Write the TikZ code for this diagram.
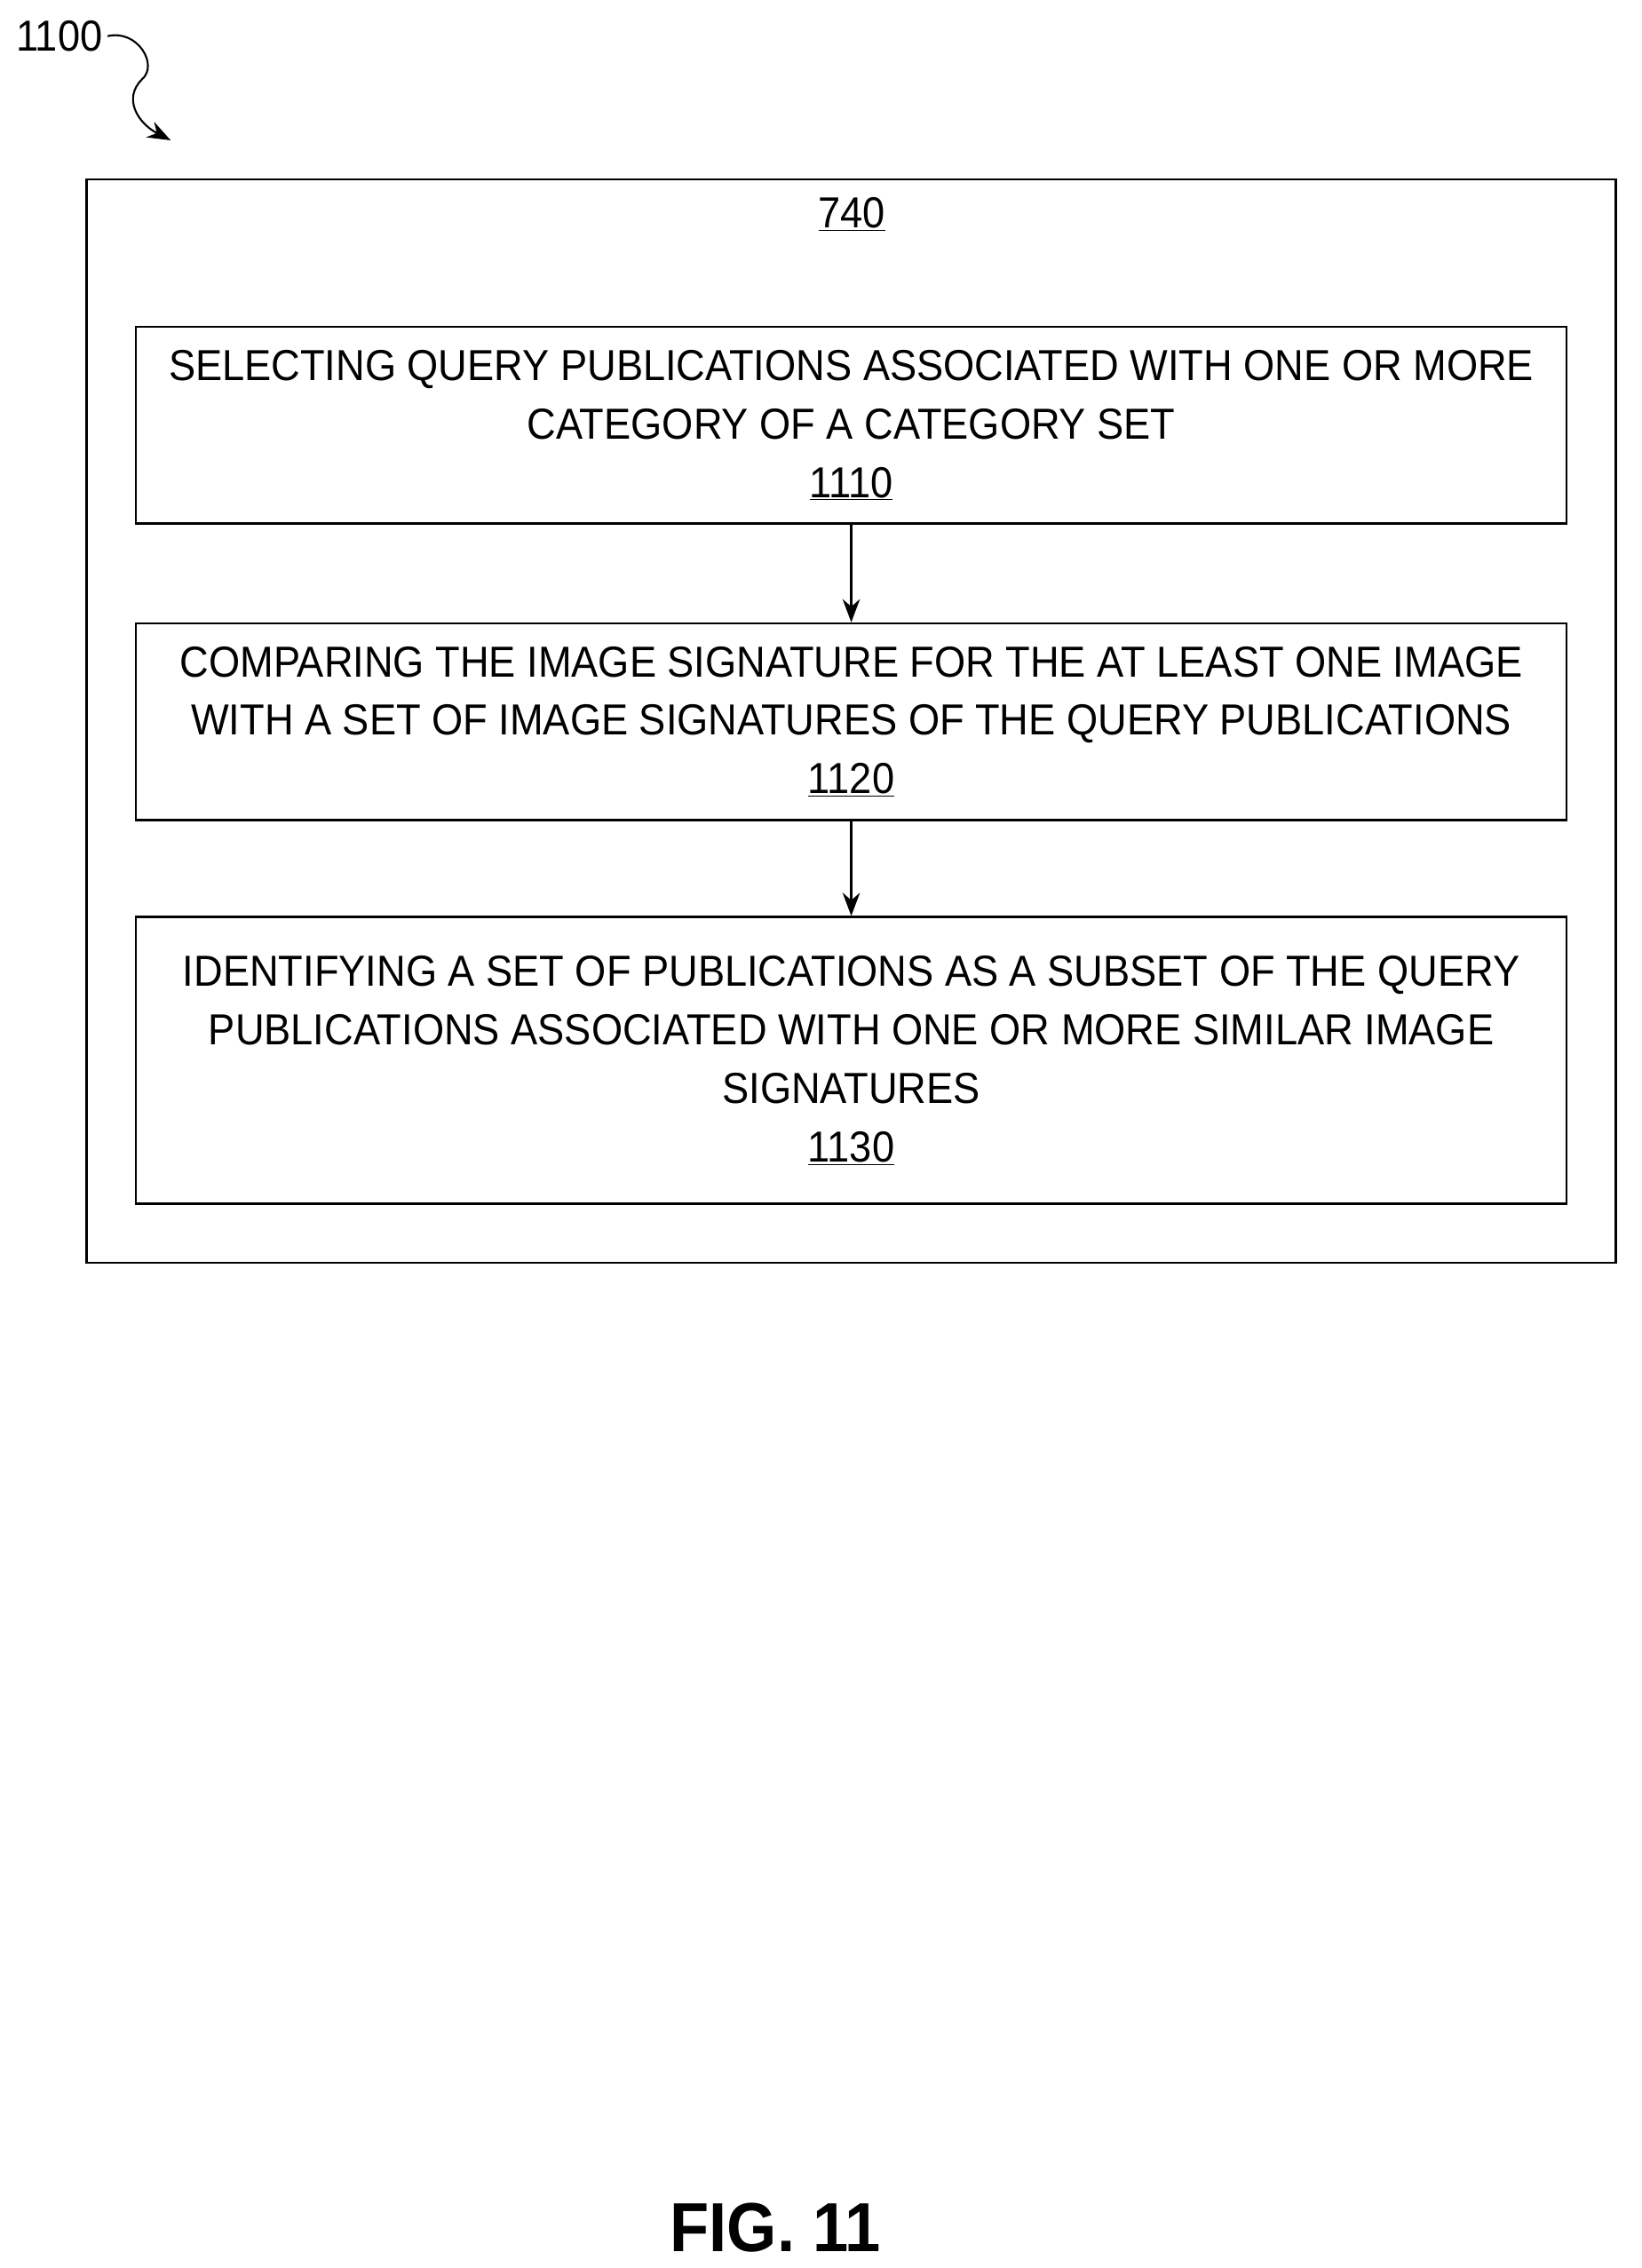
\documentclass[tikz,border=0pt]{standalone}
\usepackage{fontspec}
\setmainfont{Liberation Sans}[FakeStretch=0.925]
\usetikzlibrary{arrows.meta}
\tikzset{
  stepbox/.style={draw,line width=1.6pt,minimum width=989pt,inner sep=0pt,align=center,
    font=\fontsize{30}{40.5}\selectfont},
  flow/.style={line width=1.6pt,-{Stealth[length=16pt,width=12pt]}}
}
\begin{document}
\begin{tikzpicture}[x=1pt,y=1pt,yscale=-1]
\useasboundingbox (0,0) rectangle (1135,1568);

% outer frame
\node[draw,line width=1.6pt,minimum width=1057pt,minimum height=749pt] (frame) at (588.5,498.5) {};
\node[font=\fontsize{30}{36}\selectfont] (lbl) at (589,148) {\underline{740}};

% steps
\node[stepbox,minimum height=136pt] (s1110) at (588.5,294) {SELECTING QUERY PUBLICATIONS ASSOCIATED WITH ONE OR MORE\\CATEGORY OF A CATEGORY SET\\\underline{1110}};
\node[stepbox,minimum height=136pt] (s1120) at (588.5,499) {COMPARING THE IMAGE SIGNATURE FOR THE AT LEAST ONE IMAGE\\WITH A SET OF IMAGE SIGNATURES OF THE QUERY PUBLICATIONS\\\underline{1120}};
\node[stepbox,minimum height=198pt] (s1130) at (588.5,733) {IDENTIFYING A SET OF PUBLICATIONS AS A SUBSET OF THE QUERY\\PUBLICATIONS ASSOCIATED WITH ONE OR MORE SIMILAR IMAGE\\SIGNATURES\\\underline{1130}};

\draw[flow] (s1110) -- (s1120);
\draw[flow] (s1120) -- (s1130);

% reference numeral
\node[font=\fontsize{30}{36}\selectfont] (ref) at (41,25) {1100};
\coordinate (tip) at (118,97);
\draw[flow,line width=1.3pt] (ref.east) .. controls (95,20) and (110,45) .. (98,55) .. controls (85,68) and (95,85) .. (tip);

\node[font=\fontsize{48}{56}\selectfont\bfseries] (fig) at (536,1540) {FIG. 11};
\end{tikzpicture}
\end{document}
